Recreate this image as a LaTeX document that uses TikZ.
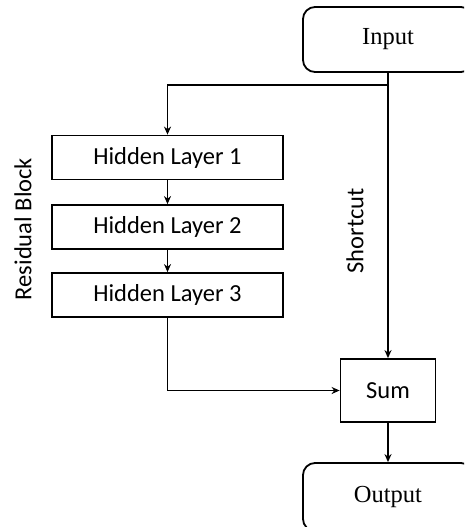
\documentclass[tikz,border=0pt]{standalone}
\usepackage{fontspec}
\setmainfont{Liberation Serif}
\newfontfamily\calib{Carlito}
\usetikzlibrary{arrows.meta}
\tikzset{
  every picture/.style={x=1pt,y=-1pt},
  lbl/.style={font=\calib\fontsize{24.5}{28}\selectfont},
  layerbox/.style={draw,line width=1.8pt,lbl,minimum width=231pt,minimum height=44pt,inner sep=0pt},
  ioround/.style={draw,line width=1.8pt,rounded corners=12pt,font=\fontsize{24.5}{28}\selectfont,minimum width=170pt,inner sep=0pt},
  conn/.style={line width=1.6pt,-{Stealth[length=8pt,width=7pt]}}
}
\begin{document}
\begin{tikzpicture}
\useasboundingbox (0,0) rectangle (464,527);
\clip (0,0) rectangle (464,527);
\node[ioround,minimum height=65pt] (inp) at (388,39.5) {Input};
\node[ioround,minimum height=68pt] (out) at (388,497) {Output};
\node[layerbox] (hl1) at (167.5,157.5) {Hidden Layer 1};
\node[layerbox] (hl2) at (167.5,227) {Hidden Layer 2};
\node[layerbox] (hl3) at (167.5,295) {Hidden Layer 3};
\node[draw,line width=1.8pt,lbl,minimum width=95pt,minimum height=63pt,inner sep=0pt] (sum) at (388,390.5) {Sum};
\coordinate (br) at (388,85);
\node[lbl,rotate=90] (rb) at (23,229) {Residual Block};
\node[lbl,rotate=90] (sc) at (355,231) {Shortcut};
\draw[conn] (inp.south) -- (sum.north);
\draw[conn] (br) -| (hl1.north);
\draw[conn] (hl1) -- (hl2);
\draw[conn] (hl2) -- (hl3);
\draw[conn] (hl3.south) |- (sum.west);
\draw[conn] (sum) -- (out);
\end{tikzpicture}
\end{document}
